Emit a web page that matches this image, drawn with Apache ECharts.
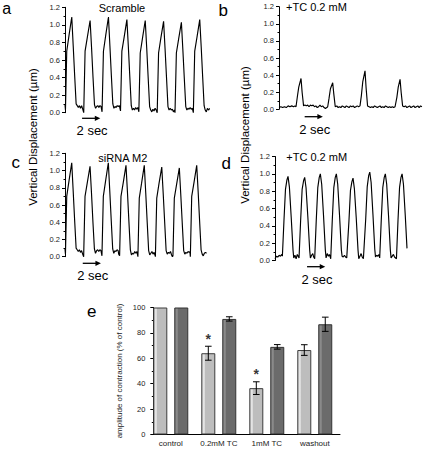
<!DOCTYPE html>
<html><head><meta charset="utf-8">
<script src="https://cdn.jsdelivr.net/npm/echarts@6/dist/echarts.min.js"></script>
<style>html,body{margin:0;padding:0;background:#fff}#c{width:425px;height:451px}</style>
</head><body><div id="c"></div>
<script>
// ---------- DATA ----------
// Trace time in seconds, displacement in µm
const traceA = [[0,0.09],[0.05,0.03],
[0.19,0.70],[0.44,0.88],[0.74,1.09],[0.90,0.76],[1.06,0.42],[1.22,0.10],[1.34,0.08],[1.46,0.06],[1.58,0.08],[1.70,0.05],[1.82,0.08],[1.94,0.04],[2.05,0.0],
[2.20,0.70],[2.45,0.86],[2.75,1.05],[2.91,0.74],[3.07,0.40],[3.23,0.09],[3.35,0.05],[3.47,0.07],[3.59,0.08],[3.71,0.06],[3.83,0.08],[3.95,0.07],[4.06,0.01],
[4.21,0.70],[4.46,0.88],[4.76,1.09],[4.92,0.76],[5.08,0.42],[5.24,0.10],[5.36,0.05],[5.48,0.07],[5.60,0.06],[5.72,0.08],[5.84,0.07],[5.96,0.08],[6.08,0.02],
[6.23,0.70],[6.48,0.86],[6.78,1.06],[6.94,0.75],[7.10,0.41],[7.26,0.08],[7.38,0.03],[7.50,0.05],[7.62,0.03],[7.74,0.06],[7.86,0.04],[7.98,0.06],[8.09,0.01],
[8.24,0.68],[8.49,0.85],[8.79,1.05],[8.95,0.74],[9.11,0.40],[9.27,0.07],[9.39,0.03],[9.51,0.01],[9.63,0.04],[9.75,0.02],[9.87,0.05],[9.99,0.03],[10.10,0.0],
[10.25,0.68],[10.50,0.85],[10.80,1.04],[10.96,0.73],[11.12,0.40],[11.28,0.07],[11.40,0.03],[11.52,0.05],[11.64,0.03],[11.76,0.04],[11.88,0.01],[12.00,0.03],[12.05,0.0],
[12.20,0.68],[12.45,0.84],[12.75,1.03],[12.91,0.72],[13.07,0.39],[13.23,0.07],[13.35,0.03],[13.47,0.05],[13.59,0.04],[13.71,0.06],[13.83,0.04],[13.95,0.05],[14.06,0.0],
[14.21,0.70],[14.46,0.86],[14.76,1.06],[14.92,0.75],[15.08,0.41],[15.24,0.08],[15.36,0.03],[15.48,0.01],[15.60,0.05],[15.72,0.03],[15.85,0.05]];

const traceB = [[0,0.02],[0.2,0.03],[0.4,0.02],[0.6,0.03],[0.8,0.02],[1.0,0.04],[1.2,0.03],[1.4,0.04],[1.6,0.03],[1.75,0.04],[1.87,0.03],
[2.02,0.15],[2.17,0.26],[2.42,0.36],[2.54,0.20],[2.70,0.04],
[2.85,0.05],[3.0,0.04],[3.15,0.05],[3.3,0.03],[3.45,0.05],[3.6,0.04],[3.75,0.05],[3.9,0.03],[4.05,0.04],[4.2,0.02],[4.35,0.03],[4.5,0.05],[4.65,0.03],[4.8,0.04],[4.95,0.02],[5.1,0.01],[5.25,0.02],[5.35,0.03],
[5.5,0.13],[5.65,0.24],[5.9,0.31],[6.02,0.18],[6.18,0.03],
[6.35,0.04],[6.5,0.02],[6.65,0.03],[6.8,0.02],[6.95,0.04],[7.1,0.03],[7.25,0.02],[7.4,0.04],[7.55,0.03],[7.7,0.02],[7.85,0.04],[8.0,0.03],[8.15,0.04],[8.3,0.02],[8.45,0.03],[8.6,0.04],[8.75,0.03],[8.9,0.04],
[9.05,0.16],[9.2,0.32],[9.45,0.45],[9.57,0.25],[9.73,0.04],
[9.9,0.03],[10.05,0.02],[10.2,0.03],[10.35,0.02],[10.5,0.04],[10.65,0.03],[10.8,0.02],[10.95,0.03],[11.1,0.04],[11.25,0.02],[11.4,0.03],[11.55,0.02],[11.7,0.04],[11.85,0.03],[12.0,0.02],[12.15,0.03],[12.3,0.02],[12.45,0.03],[12.6,0.02],[12.75,0.03],
[12.95,0.14],[13.1,0.26],[13.3,0.35],[13.42,0.20],[13.58,0.04],
[13.75,0.03],[13.9,0.04],[14.05,0.02],[14.2,0.03],[14.35,0.04],[14.5,0.02],[14.65,0.03],[14.8,0.04],[14.95,0.02],[15.1,0.03],[15.25,0.04],[15.4,0.02],[15.55,0.04],[15.7,0.03]];

const traceC = [[0,0.09],[0.05,0.03],
[0.19,0.70],[0.44,0.88],[0.74,1.09],[0.90,0.76],[1.06,0.42],[1.22,0.10],[1.34,0.08],[1.46,0.06],[1.58,0.08],[1.70,0.05],[1.82,0.07],[1.94,0.03],[2.05,0.0],
[2.20,0.70],[2.45,0.86],[2.75,1.05],[2.91,0.74],[3.07,0.40],[3.23,0.09],[3.35,0.04],[3.47,0.07],[3.59,0.08],[3.71,0.06],[3.83,0.08],[3.95,0.07],[4.06,0.01],
[4.21,0.70],[4.46,0.88],[4.76,1.09],[4.92,0.76],[5.08,0.42],[5.24,0.09],[5.36,0.04],[5.48,0.07],[5.60,0.06],[5.72,0.08],[5.84,0.07],[5.90,0.03],[6.00,0.01],
[6.15,0.70],[6.40,0.86],[6.70,1.06],[6.86,0.75],[7.02,0.41],[7.18,0.08],[7.30,0.02],[7.42,0.04],[7.54,0.03],[7.66,0.06],[7.78,0.04],[7.90,0.06],[8.01,0.0],
[8.16,0.68],[8.41,0.85],[8.71,1.06],[8.87,0.74],[9.03,0.40],[9.19,0.07],[9.31,0.02],[9.43,0.04],[9.55,0.06],[9.67,0.03],[9.79,0.05],[9.88,0.02],[9.93,0.0],
[10.08,0.68],[10.33,0.85],[10.63,1.04],[10.79,0.73],[10.95,0.40],[11.11,0.07],[11.23,0.03],[11.35,0.05],[11.47,0.04],[11.59,0.06],[11.71,0.02],[11.80,0.0],[11.86,0.01],
[12.01,0.68],[12.26,0.84],[12.56,1.03],[12.72,0.72],[12.88,0.39],[13.04,0.07],[13.16,0.03],[13.28,0.05],[13.40,0.04],[13.52,0.06],[13.64,0.05],[13.72,0.06],[13.77,0.0],
[13.92,0.70],[14.17,0.86],[14.47,1.06],[14.63,0.75],[14.79,0.41],[14.95,0.08],[15.07,0.03],[15.19,0.01],[15.31,0.04],[15.43,0.05],[15.55,0.04]];

const traceD = [[0,0.02],[0.15,0.05],[0.3,0.04],[0.45,0.06],[0.6,0.05],[0.75,0.07],[0.81,0.05],
[0.98,0.45],[1.15,0.82],[1.31,0.93],[1.43,0.97],[1.58,0.85],[1.78,0.50],[1.98,0.12],[2.06,0.03],[2.19,0.06],[2.32,0.02],[2.45,0.07],[2.55,0.05],[2.64,0.03],
[2.81,0.45],[2.98,0.82],[3.14,0.92],[3.26,0.96],[3.41,0.84],[3.61,0.50],[3.81,0.12],[3.89,0.03],[4.02,0.06],[4.15,0.08],[4.25,0.04],[4.36,0.02],
[4.53,0.46],[4.70,0.84],[4.86,0.96],[4.98,1.00],[5.13,0.88],[5.33,0.52],[5.53,0.12],[5.61,0.03],[5.74,0.08],[5.87,0.05],[5.98,0.07],[6.12,0.02],
[6.29,0.46],[6.46,0.84],[6.62,0.96],[6.74,1.00],[6.89,0.88],[7.09,0.52],[7.29,0.12],[7.37,0.05],[7.50,0.04],[7.63,0.06],[7.75,0.04],[7.88,0.03],
[8.12,0.45],[8.29,0.81],[8.45,0.91],[8.57,0.95],[8.72,0.83],[8.92,0.50],[9.12,0.12],[9.20,0.02],[9.33,0.05],[9.46,0.08],[9.58,0.04],[9.71,0.02],
[9.96,0.47],[10.13,0.85],[10.29,0.98],[10.41,1.02],[10.56,0.90],[10.76,0.53],[10.96,0.13],[11.04,0.04],[11.17,0.06],[11.30,0.05],[11.42,0.07],[11.50,0.03],
[11.67,0.46],[11.84,0.84],[12.00,0.96],[12.12,1.00],[12.27,0.88],[12.47,0.52],[12.67,0.12],[12.75,0.03],[12.88,0.05],[13.01,0.07],[13.13,0.04],[13.34,0.02],
[13.51,0.46],[13.68,0.84],[13.84,0.96],[13.96,1.00],[14.11,0.88],[14.31,0.52],[14.50,0.14]];

const panelLetters = ['a','b','c','d','e'];
const traceTitles = ['Scramble','+TC 0.2 mM','siRNA M2','+TC 0.2 mM'];
const traceYTicks = [0, 0.2, 0.4, 0.6, 0.8, 1.0, 1.2];
const traceYLabel = 'Vertical Displacement (µm)';
const scaleBarText = '2 sec';
const scaleBarSeconds = 2;
const scaleBarStart = [1.87, 2.82, 1.95, 3.52];

const barCategories = ['control', '0.2mM TC', '1mM TC', 'washout'];
const barLight = [100, 64, 36.5, 66.5];
const barLightErr = [0, 5.5, 5, 4.2];
const barDark = [100, 91, 69, 86.8];
const barDarkErr = [0, 1.7, 1.8, 5.6];
const barSignificant = [false, true, true, false];
const barYTicks = [0, 20, 40, 60, 80, 100];
const barYLabel = 'amplitude of contraction (% of control)';

// ---------- LAYOUT ----------
const FONT = "Arial, 'Liberation Sans', Helvetica, sans-serif";
const traces = [traceA, traceB, traceC, traceD];
const traceGrids = [
  {left:65, top:7.3, width:145.6, height:105.4},
  {left:279, top:6.7, width:142.9, height:102.6},
  {left:65, top:153.3, width:142, height:103.4},
  {left:275, top:156.5, width:132, height:104}
];
const traceXMax = [15.95, 15.7, 15.6, 14.5];
const barGrid = {left:153.3, top:307.5, width:186.7, height:127};
const LIGHT_OFF = 0.146, DARK_OFF = 0.583, LABEL_OFF = 0.365;

const chart = echarts.init(document.getElementById('c'), null, {renderer:'svg', width:425, height:451});

const grids = traceGrids.map(g => Object.assign({containLabel:false}, g));
grids.push(Object.assign({containLabel:false}, barGrid));

const xAxes = traceGrids.map((g, i) => ({
  type:'value', gridIndex:i, min:0, max:traceXMax[i], show:false
}));
xAxes.push({
  type:'value', gridIndex:4, min:0, max:3.89,
  axisLine:{show:true, lineStyle:{color:'#000', width:1}},
  axisTick:{show:false}, splitLine:{show:false},
  axisLabel:{
    customValues: barCategories.map((c, i) => i + LABEL_OFF),
    formatter: v => barCategories[Math.round(v - LABEL_OFF)] || '',
    fontFamily:FONT, fontSize:8, color:'#222', margin:5
  }
});

const yAxes = traceGrids.map((g, i) => ({
  type:'value', gridIndex:i, min:traceYTicks[0], max:traceYTicks[traceYTicks.length-1], interval:0.2,
  axisLine:{show:true, lineStyle:{color:'#000', width:1}},
  axisTick:{show:true, length:3, lineStyle:{color:'#000'}},
  minorTick:{show:true, splitNumber:2, length:1.5, lineStyle:{color:'#000'}},
  splitLine:{show:false},
  axisLabel:{formatter: v => v.toFixed(1), fontFamily:FONT, fontSize:7.5, color:'#222', margin:5}
}));
yAxes.push({
  type:'value', gridIndex:4, min:barYTicks[0], max:barYTicks[barYTicks.length-1], interval:20,
  axisLine:{show:true, lineStyle:{color:'#000', width:1}},
  axisTick:{show:true, length:3, lineStyle:{color:'#000'}},
  minorTick:{show:true, splitNumber:2, length:1.5, lineStyle:{color:'#000'}},
  splitLine:{show:false},
  axisLabel:{fontFamily:FONT, fontSize:7.5, color:'#222', margin:8},
  name: barYLabel, nameLocation:'middle', nameRotate:90, nameGap:30,
  nameTextStyle:{fontFamily:FONT, fontSize:8, color:'#222'}
});

const series = traces.map((d, i) => ({
  type:'line', xAxisIndex:i, yAxisIndex:i, data:d, showSymbol:false, symbol:'none',
  lineStyle:{color:'#000', width:1.15}, silent:true, animation:false
}));

const grad = (edge, fill) => new echarts.graphic.LinearGradient(0, 0, 1, 0, [
  {offset:0, color:fill}, {offset:0.08, color:edge}, {offset:0.2, color:edge}, {offset:0.24, color:fill}, {offset:1, color:fill}
]);

series.push({
  type:'bar', xAxisIndex:4, yAxisIndex:4, barWidth:14, barGap:'-100%',
  data: barLight.map((v, i) => [i + LIGHT_OFF, v]),
  itemStyle:{color:grad('#e4e4e4', '#bdbdbd'), borderColor:'#3c3c3c', borderWidth:1},
  animation:false, silent:true
});
series.push({
  type:'bar', xAxisIndex:4, yAxisIndex:4, barWidth:14, barGap:'-100%',
  data: barDark.map((v, i) => [i + DARK_OFF, v]),
  itemStyle:{color:grad('#8a8a8a', '#6b6b6b'), borderColor:'#333', borderWidth:1},
  animation:false, silent:true
});

const errData = [];
barLight.forEach((v, i) => { if (barLightErr[i] > 0) errData.push([i + LIGHT_OFF, v - barLightErr[i], v + barLightErr[i]]); });
barDark.forEach((v, i) => { if (barDarkErr[i] > 0) errData.push([i + DARK_OFF, v - barDarkErr[i], v + barDarkErr[i]]); });
series.push({
  type:'custom', xAxisIndex:4, yAxisIndex:4, data:errData, z:5, animation:false, silent:true,
  renderItem:(params, api) => {
    const x = api.value(0), lo = api.value(1), hi = api.value(2);
    const p1 = api.coord([x, hi]), p2 = api.coord([x, lo]);
    const w = 3.3, st = {stroke:'#000', lineWidth:1};
    return {type:'group', children:[
      {type:'line', shape:{x1:p1[0], y1:p1[1], x2:p2[0], y2:p2[1]}, style:st},
      {type:'line', shape:{x1:p1[0]-w, y1:p1[1], x2:p1[0]+w, y2:p1[1]}, style:st},
      {type:'line', shape:{x1:p2[0]-w, y1:p2[1], x2:p2[0]+w, y2:p2[1]}, style:st}
    ]};
  }
});
const starData = [];
barLight.forEach((v, i) => { if (barSignificant[i]) starData.push([i + LIGHT_OFF, v + barLightErr[i]]); });
series.push({
  type:'scatter', xAxisIndex:4, yAxisIndex:4, data:starData, symbolSize:1, itemStyle:{color:'rgba(0,0,0,0)'},
  label:{show:true, position:'top', distance:0, formatter:'*', fontFamily:FONT, fontSize:14, fontWeight:'bold', color:'#000'},
  animation:false, silent:true
});

chart.setOption({
  animation:false,
  backgroundColor:'#fff',
  grid:grids, xAxis:xAxes, yAxis:yAxes, series:series
});

// ---------- annotations ----------
const graphics = [];
const txt = (text, x, y, size, align, extra) => Object.assign({
  type:'text', x:x, y:y, silent:true,
  style:{text:text, fontFamily:FONT, fontSize:size, fill:'#000', align:align || 'left', verticalAlign:'middle'}
}, extra || {});

// panel letters
graphics.push(txt(panelLetters[0], 2.3, 8.3, 16));
graphics.push(txt(panelLetters[1], 218.5, 10.5, 17));
graphics.push(txt(panelLetters[2], 11.5, 162.5, 17));
graphics.push(txt(panelLetters[3], 221.5, 163.5, 17));
graphics.push(txt(panelLetters[4], 87, 311.5, 17));

// trace titles
graphics.push(txt(traceTitles[0], 122, 7.5, 11, 'center'));
graphics.push(txt(traceTitles[1], 286, 7, 11, 'left'));
graphics.push(txt(traceTitles[2], 122.8, 157.5, 11, 'center'));
graphics.push(txt(traceTitles[3], 286.3, 156.7, 11, 'left'));

// column y labels
graphics.push(txt(traceYLabel, 33.3, 137, 11.5, 'center', {rotation:Math.PI/2}));
graphics.push(txt(traceYLabel, 245, 135, 11.5, 'center', {rotation:Math.PI/2}));

// scale bars
const barYOffset = [5.6, 7.4, 6.6, 6.2];
scaleBarStart.forEach((t0, i) => {
  const a = chart.convertToPixel({gridIndex:i}, [t0, 0]);
  const b = chart.convertToPixel({gridIndex:i}, [t0 + scaleBarSeconds, 0]);
  const y = a[1] + barYOffset[i];
  graphics.push({type:'line', silent:true, shape:{x1:a[0], y1:y, x2:b[0]-4, y2:y}, style:{stroke:'#000', lineWidth:1.3}});
  graphics.push({type:'polygon', silent:true, shape:{points:[[b[0], y], [b[0]-5.5, y-2.6], [b[0]-5.5, y+2.6]]}, style:{fill:'#000'}});
  graphics.push(txt(scaleBarText, a[0] + 10, y + 12.5, 13, 'center'));
});

chart.setOption({graphic:graphics});
</script>
</body></html>
